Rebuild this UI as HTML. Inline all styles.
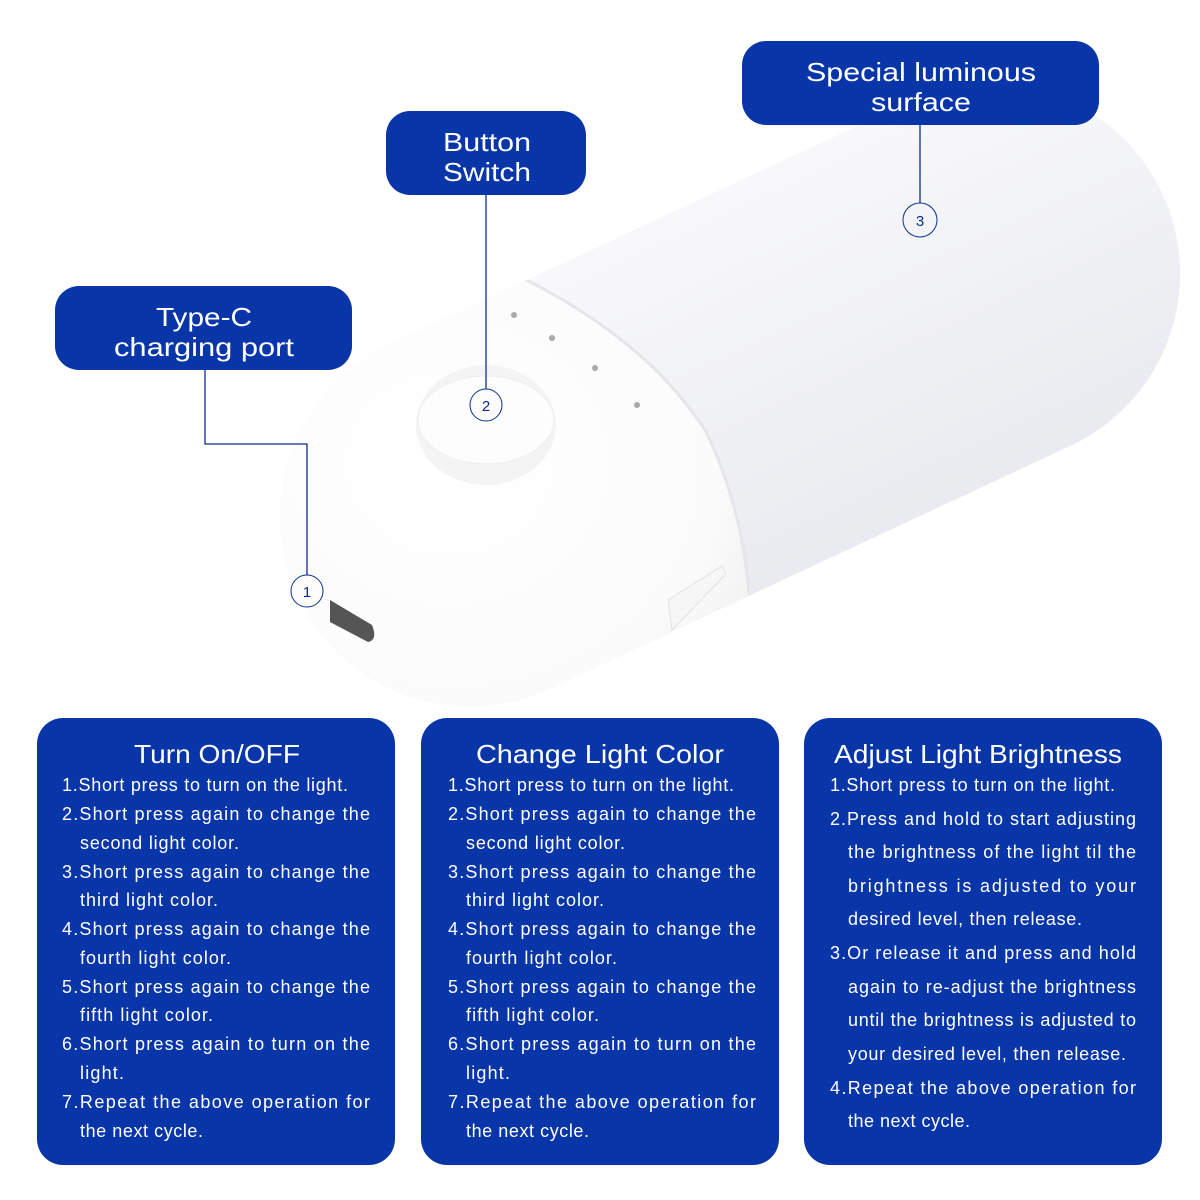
<!DOCTYPE html>
<html><head><meta charset="utf-8"><style>
html,body{margin:0;padding:0;background:#fff;width:1200px;height:1200px;overflow:hidden}
svg{display:block}
text{font-family:"Liberation Sans",sans-serif;fill:#fff}
.b{font-size:18px}
.t{font-size:26px}
.l{font-size:26px}
</style></head><body>
<svg width="1200" height="1200" viewBox="0 0 1200 1200" xmlns="http://www.w3.org/2000/svg">
<defs>
<linearGradient id="lum" x1="0" y1="0" x2="0" y2="1">
<stop offset="0" stop-color="#f8f8fa"/><stop offset="1" stop-color="#e9ebf0"/>
</linearGradient>
<radialGradient id="cap" cx="0.45" cy="0.4" r="0.7">
<stop offset="0" stop-color="#ffffff"/><stop offset="0.7" stop-color="#fbfbfb"/><stop offset="1" stop-color="#ececec"/>
</radialGradient>
<clipPath id="body"><rect x="-477" y="-190" width="954" height="380" rx="190" transform="translate(730,395) rotate(-25)"/></clipPath>
</defs>
<rect x="-477" y="-190" width="954" height="380" rx="190" transform="translate(730,395) rotate(-25)" fill="url(#lum)"/>
<g clip-path="url(#body)">
<path d="M200,760 L200,300 Q380,285 495,265 Q640,330 705,430 Q770,560 745,760 Z" fill="url(#cap)"/>
<path d="M495,265 Q640,330 705,430 Q770,560 745,760" fill="none" stroke="#e4e6ea" stroke-width="3"/>
</g>
<ellipse cx="486" cy="425" rx="70" ry="60" fill="#f4f4f4"/>
<ellipse cx="486" cy="420" rx="68" ry="44" fill="#fdfdfd" stroke="#eee"/>
<circle cx="514" cy="315" r="3" fill="#aaa"/>
<circle cx="552" cy="338" r="3" fill="#aaa"/>
<circle cx="595" cy="368" r="3" fill="#aaa"/>
<circle cx="637" cy="405" r="3" fill="#aaa"/>
<path d="M330,600 L372,625 Q378,640 368,642 L330,622 Z" fill="#555"/>
<path d="M668,600 L722,566 L726,574 L672,630 Z" fill="#f6f6f6" stroke="#e2e2e2"/>
<g stroke="#0b2f8f" stroke-width="1.3" fill="none">
<polyline points="205,370 205,444 307,444 307,575"/>
<line x1="486" y1="195" x2="486" y2="389"/>
<line x1="920" y1="125" x2="920" y2="203"/>
<circle cx="307" cy="591" r="16" stroke-width="1"/>
<circle cx="486" cy="405" r="16" stroke-width="1"/>
<circle cx="920" cy="220" r="17" stroke-width="1"/>
</g>
<g style="font-size:15px" text-anchor="middle">
<text x="307" y="597" style="fill:#0b2f8f">1</text>
<text x="486" y="411" style="fill:#0b2f8f">2</text>
<text x="920" y="226" style="fill:#0b2f8f">3</text>
</g>
<g fill="#0835a8">
<rect x="55" y="286" width="297" height="84" rx="24"/>
<rect x="386" y="111" width="200" height="84" rx="24"/>
<rect x="742" y="41" width="357" height="84" rx="24"/>
<rect x="37" y="718" width="358" height="447" rx="26"/>
<rect x="421" y="718" width="358" height="447" rx="26"/>
<rect x="804" y="718" width="358" height="447" rx="26"/>
</g>
<g text-anchor="middle">
<text class="l" x="204" y="326" textLength="96" lengthAdjust="spacingAndGlyphs">Type-C</text>
<text class="l" x="204" y="356" textLength="180" lengthAdjust="spacingAndGlyphs">charging port</text>
<text class="l" x="487" y="151" textLength="88" lengthAdjust="spacingAndGlyphs">Button</text>
<text class="l" x="487" y="181" textLength="88" lengthAdjust="spacingAndGlyphs">Switch</text>
<text class="l" x="921" y="81" textLength="230" lengthAdjust="spacingAndGlyphs">Special luminous</text>
<text class="l" x="921" y="111" textLength="100" lengthAdjust="spacingAndGlyphs">surface</text>
</g>
<g>
<text class="t" x="134" y="763" textLength="166" lengthAdjust="spacingAndGlyphs">Turn On/OFF</text>
<text class="t" x="476" y="763" textLength="248" lengthAdjust="spacingAndGlyphs">Change Light Color</text>
<text class="t" x="834" y="763" textLength="288" lengthAdjust="spacingAndGlyphs">Adjust Light Brightness</text>
</g>
<g>
<text class="b" x="62" y="791" textLength="286">1.Short press to turn on the light.</text>
<text class="b" x="62" y="820" textLength="308">2.Short press again to change the</text>
<text class="b" x="80" y="849" textLength="159">second light color.</text>
<text class="b" x="62" y="878" textLength="308">3.Short press again to change the</text>
<text class="b" x="80" y="906" textLength="138">third light color.</text>
<text class="b" x="62" y="935" textLength="308">4.Short press again to change the</text>
<text class="b" x="80" y="964" textLength="151">fourth light color.</text>
<text class="b" x="62" y="993" textLength="308">5.Short press again to change the</text>
<text class="b" x="80" y="1021" textLength="133">fifth light color.</text>
<text class="b" x="62" y="1050" textLength="308">6.Short press again to turn on the</text>
<text class="b" x="80" y="1079" textLength="44">light.</text>
<text class="b" x="62" y="1108" textLength="308">7.Repeat the above operation for</text>
<text class="b" x="80" y="1137" textLength="123">the next cycle.</text>
</g>
<g transform="translate(386,0)">
<text class="b" x="62" y="791" textLength="286">1.Short press to turn on the light.</text>
<text class="b" x="62" y="820" textLength="308">2.Short press again to change the</text>
<text class="b" x="80" y="849" textLength="159">second light color.</text>
<text class="b" x="62" y="878" textLength="308">3.Short press again to change the</text>
<text class="b" x="80" y="906" textLength="138">third light color.</text>
<text class="b" x="62" y="935" textLength="308">4.Short press again to change the</text>
<text class="b" x="80" y="964" textLength="151">fourth light color.</text>
<text class="b" x="62" y="993" textLength="308">5.Short press again to change the</text>
<text class="b" x="80" y="1021" textLength="133">fifth light color.</text>
<text class="b" x="62" y="1050" textLength="308">6.Short press again to turn on the</text>
<text class="b" x="80" y="1079" textLength="44">light.</text>
<text class="b" x="62" y="1108" textLength="308">7.Repeat the above operation for</text>
<text class="b" x="80" y="1137" textLength="123">the next cycle.</text>
</g>
<g>
<text class="b" x="830" y="791" textLength="285">1.Short press to turn on the light.</text>
<text class="b" x="830" y="825" textLength="306">2.Press and hold to start adjusting</text>
<text class="b" x="848" y="858" textLength="288">the brightness of the light til the</text>
<text class="b" x="848" y="892" textLength="288">brightness is adjusted to your</text>
<text class="b" x="848" y="925" textLength="234">desired level, then release.</text>
<text class="b" x="830" y="959" textLength="306">3.Or release it and press and hold</text>
<text class="b" x="848" y="993" textLength="288">again to re-adjust the brightness</text>
<text class="b" x="848" y="1026" textLength="288">until the brightness is adjusted to</text>
<text class="b" x="848" y="1060" textLength="278">your desired level, then release.</text>
<text class="b" x="830" y="1094" textLength="306">4.Repeat the above operation for</text>
<text class="b" x="848" y="1127" textLength="122">the next cycle.</text>
</g>
</svg>
</body></html>
